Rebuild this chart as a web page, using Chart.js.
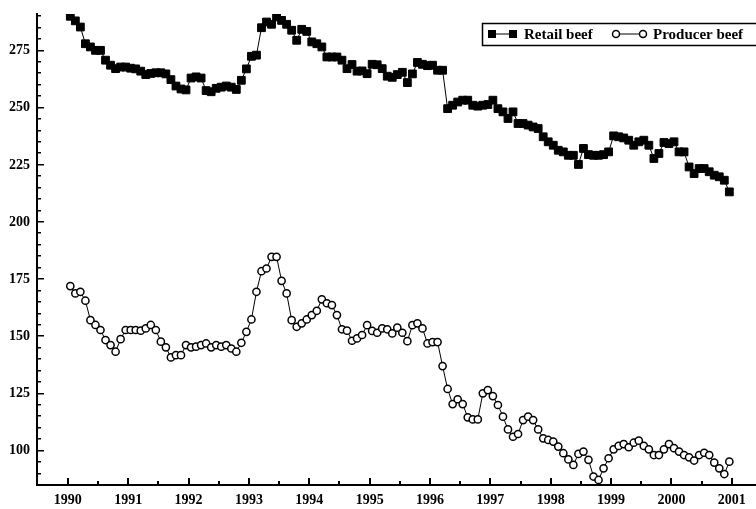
<!DOCTYPE html>
<html>
<head>
<meta charset="utf-8">
<script src="https://cdn.jsdelivr.net/npm/chart.js@4.4.1/dist/chart.umd.min.js"></script>
<style>
    html, body { margin: 0; padding: 0; background: #fff; }
    #wrap { width: 756px; height: 509px; }
</style>
</head>
<body>
<div id="wrap"><canvas id="beefChart" width="756" height="509"></canvas></div>
<script>
// monthly prices, Jan 1990 .. Dec 2000
var retailBeef = [
    290.0, 288.0, 285.3, 278.0, 276.6, 275.1, 275.1, 270.8, 268.6, 267.1, 267.8, 267.8, // 1990
    267.3, 267.0, 266.0, 264.5, 265.0, 265.3, 265.3, 264.8, 262.3, 259.5, 258.2, 257.8, // 1991
    263.0, 263.5, 263.0, 257.5, 257.0, 258.5, 259.0, 259.5, 259.0, 258.0, 262.0, 267.0, // 1992
    272.5, 273.0, 285.0, 287.5, 286.5, 289.7, 288.2, 286.5, 283.9, 279.5, 284.3, 283.4, // 1993
    278.8, 278.0, 276.6, 272.2, 272.2, 272.2, 270.8, 267.1, 268.9, 266.0, 266.1, 264.9, // 1994
    269.0, 268.8, 267.1, 263.8, 263.3, 264.5, 265.5, 261.0, 264.8, 269.8, 269.0, 268.4, // 1995
    268.6, 266.4, 266.4, 249.6, 251.1, 252.5, 253.3, 253.3, 251.1, 250.7, 251.1, 251.4, // 1996
    253.3, 249.6, 248.2, 245.3, 248.2, 243.1, 243.1, 242.4, 241.6, 240.9, 237.3, 235.1, // 1997
    233.6, 231.4, 230.7, 229.2, 229.2, 225.2, 232.2, 229.5, 229.2, 229.2, 229.5, 230.7, // 1998
    237.7, 237.3, 236.8, 235.8, 233.6, 235.1, 235.8, 233.6, 227.8, 230.0, 234.8, 234.3, // 1999
    235.1, 230.7, 230.7, 224.1, 221.2, 223.4, 223.4, 222.0, 220.5, 219.8, 218.3, 213.2  // 2000
];
var producerBeef = [
    172.0, 168.8, 169.5, 165.6, 157.1, 155.0, 152.8, 148.4, 146.2, 143.3, 148.8, 152.8, // 1990
    152.8, 152.8, 152.5, 153.5, 155.0, 152.8, 147.7, 145.2, 140.8, 141.8, 141.8, 146.2, // 1991
    145.2, 145.5, 146.2, 146.9, 145.2, 146.2, 145.5, 146.2, 144.7, 143.3, 147.2, 152.0, // 1992
    157.4, 169.5, 178.5, 179.7, 184.8, 184.8, 174.3, 168.8, 157.1, 154.2, 155.7, 157.4, // 1993
    159.3, 161.2, 166.2, 164.5, 163.7, 159.3, 153.1, 152.5, 148.1, 149.1, 150.6, 154.9, // 1994
    152.4, 151.6, 153.5, 153.1, 151.3, 153.8, 151.6, 147.9, 154.9, 155.7, 153.5, 146.9, // 1995
    147.5, 147.5, 137.0, 127.0, 120.4, 122.5, 120.4, 114.6, 113.7, 113.7, 125.1, 126.5, // 1996
    123.9, 120.0, 114.9, 109.3, 106.1, 107.3, 113.4, 114.9, 113.4, 109.3, 105.4, 104.7, // 1997
    104.0, 101.8,  98.9,  96.2,  93.8,  98.6,  99.6,  96.0,  88.7,  87.2,  92.3,  96.7, // 1998
    100.6, 102.1, 102.9, 101.5, 103.5, 104.4, 102.1, 100.6,  98.1,  98.1, 100.6, 102.9, // 1999
    101.1,  99.6,  98.1,  97.1,  95.7,  98.1,  99.1,  98.1,  94.8,  92.3,  89.8,  95.2  // 2000
];
var firstYear = 1990;
var yearLabels = [1990, 1991, 1992, 1993, 1994, 1995, 1996, 1997, 1998, 1999, 2000, 2001];
var priceLabels = [100, 125, 150, 175, 200, 225, 250, 275];
var seriesNames = ['Retail beef', 'Producer beef'];

var FONT = '"Liberation Serif", "Times New Roman", serif';

function toPoints(values) {
    // each monthly value sits in the middle of its month
    return values.map(function (v, i) {
        return { x: firstYear + (i + 0.5) / 12, y: v };
    });
}

// ticks in the figure point into the plot, not outward:
// long ones at the labels, short ones every half year / every 5 cents
var inwardTicks = {
    id: 'inwardTicks',
    afterDatasetsDraw: function (chart) {
        var ctx = chart.ctx;
        var area = chart.chartArea;
        var xs = chart.scales.x;
        var ys = chart.scales.y;
        ctx.save();
        ctx.fillStyle = '#000';
        for (var k = 0; k <= 22; k++) {
            var px = Math.round(xs.getPixelForValue(firstYear + k / 2));
            var len = k % 2 === 0 ? 7 : 4;
            ctx.fillRect(px - 1, area.bottom - len, 2, len);
        }
        for (var v = 85; v <= 290; v += 5) {
            var py = Math.round(ys.getPixelForValue(v));
            var l2 = v % 25 === 0 ? 7 : 4;
            ctx.fillRect(area.left, py - 1, l2, 1.5);
        }
        ctx.restore();
    }
};

// framed legend in the top right corner, line sample with a marker at each end
var boxedLegend = {
    id: 'boxedLegend',
    afterDraw: function (chart) {
        var ctx = chart.ctx;
        var top = 23, h = 22, left = 482;
        var cy = top + h / 2;
        ctx.save();
        ctx.fillStyle = '#fff';
        ctx.fillRect(left, top, 300, h);
        ctx.strokeStyle = '#000';
        ctx.lineWidth = 1.5;
        ctx.strokeRect(left + 0.5, top + 0.5, 300, h);

        ctx.lineWidth = 1;
        ctx.beginPath();
        ctx.moveTo(492, cy);
        ctx.lineTo(513, cy);
        ctx.stroke();
        ctx.fillStyle = '#000';
        [492, 513].forEach(function (x) {
            ctx.fillRect(x - 4, cy - 4, 8, 8);
        });

        ctx.beginPath();
        ctx.moveTo(616, cy);
        ctx.lineTo(643, cy);
        ctx.stroke();
        ctx.lineWidth = 1.5;
        [616, 643].forEach(function (x) {
            ctx.beginPath();
            ctx.arc(x, cy, 3.5, 0, Math.PI * 2);
            ctx.fillStyle = '#fff';
            ctx.fill();
            ctx.stroke();
        });

        ctx.fillStyle = '#000';
        ctx.font = 'bold 15px ' + FONT;
        ctx.textBaseline = 'middle';
        ctx.textAlign = 'left';
        ctx.fillText(seriesNames[0], 524, cy + 1);
        ctx.fillText(seriesNames[1], 653, cy + 1);
        ctx.restore();
    }
};

new Chart(document.getElementById('beefChart'), {
    type: 'line',
    data: {
        datasets: [
            {
                label: seriesNames[0],
                data: toPoints(retailBeef),
                borderColor: '#000',
                borderWidth: 1,
                pointStyle: 'rect',
                pointRadius: 5.5,
                pointBackgroundColor: '#000',
                pointBorderColor: '#000',
                pointBorderWidth: 1,
                tension: 0
            },
            {
                label: seriesNames[1],
                data: toPoints(producerBeef),
                borderColor: '#000',
                borderWidth: 1,
                pointStyle: 'circle',
                pointRadius: 3.6,
                pointBackgroundColor: '#fff',
                pointBorderColor: '#000',
                pointBorderWidth: 1.5,
                tension: 0
            }
        ]
    },
    options: {
        responsive: false,
        devicePixelRatio: 1,
        animation: false,
        layout: {
            autoPadding: false,
            padding: { top: 14, right: 0, left: 0, bottom: 0 }
        },
        plugins: {
            legend: { display: false },
            tooltip: { enabled: false }
        },
        scales: {
            x: {
                type: 'linear',
                min: 1989.49,
                max: 2001.4,
                afterFit: function (s) {
                    s.height = 24;
                    s.paddingLeft = 0;
                    s.paddingRight = 0;
                },
                afterBuildTicks: function (s) {
                    s.ticks = yearLabels.map(function (y) { return { value: y }; });
                },
                grid: { drawOnChartArea: false, drawTicks: false },
                border: { display: true, color: '#000', width: 2 },
                ticks: {
                    autoSkip: false,
                    maxRotation: 0,
                    padding: 7,
                    color: '#000',
                    font: { family: FONT, size: 14, weight: 'bold' },
                    callback: function (v) { return String(v); }
                }
            },
            y: {
                min: 85,
                max: 291,
                afterFit: function (s) {
                    s.width = 37;
                    s.paddingTop = 0;
                    s.paddingBottom = 0;
                },
                afterBuildTicks: function (s) {
                    s.ticks = priceLabels.map(function (p) { return { value: p }; });
                },
                grid: { drawOnChartArea: false, drawTicks: false },
                border: { display: true, color: '#000', width: 2 },
                ticks: {
                    autoSkip: false,
                    padding: 7,
                    color: '#000',
                    font: { family: FONT, size: 14, weight: 'bold' },
                    callback: function (v) { return String(v); }
                }
            }
        }
    },
    plugins: [inwardTicks, boxedLegend]
});
</script>
</body>
</html>
